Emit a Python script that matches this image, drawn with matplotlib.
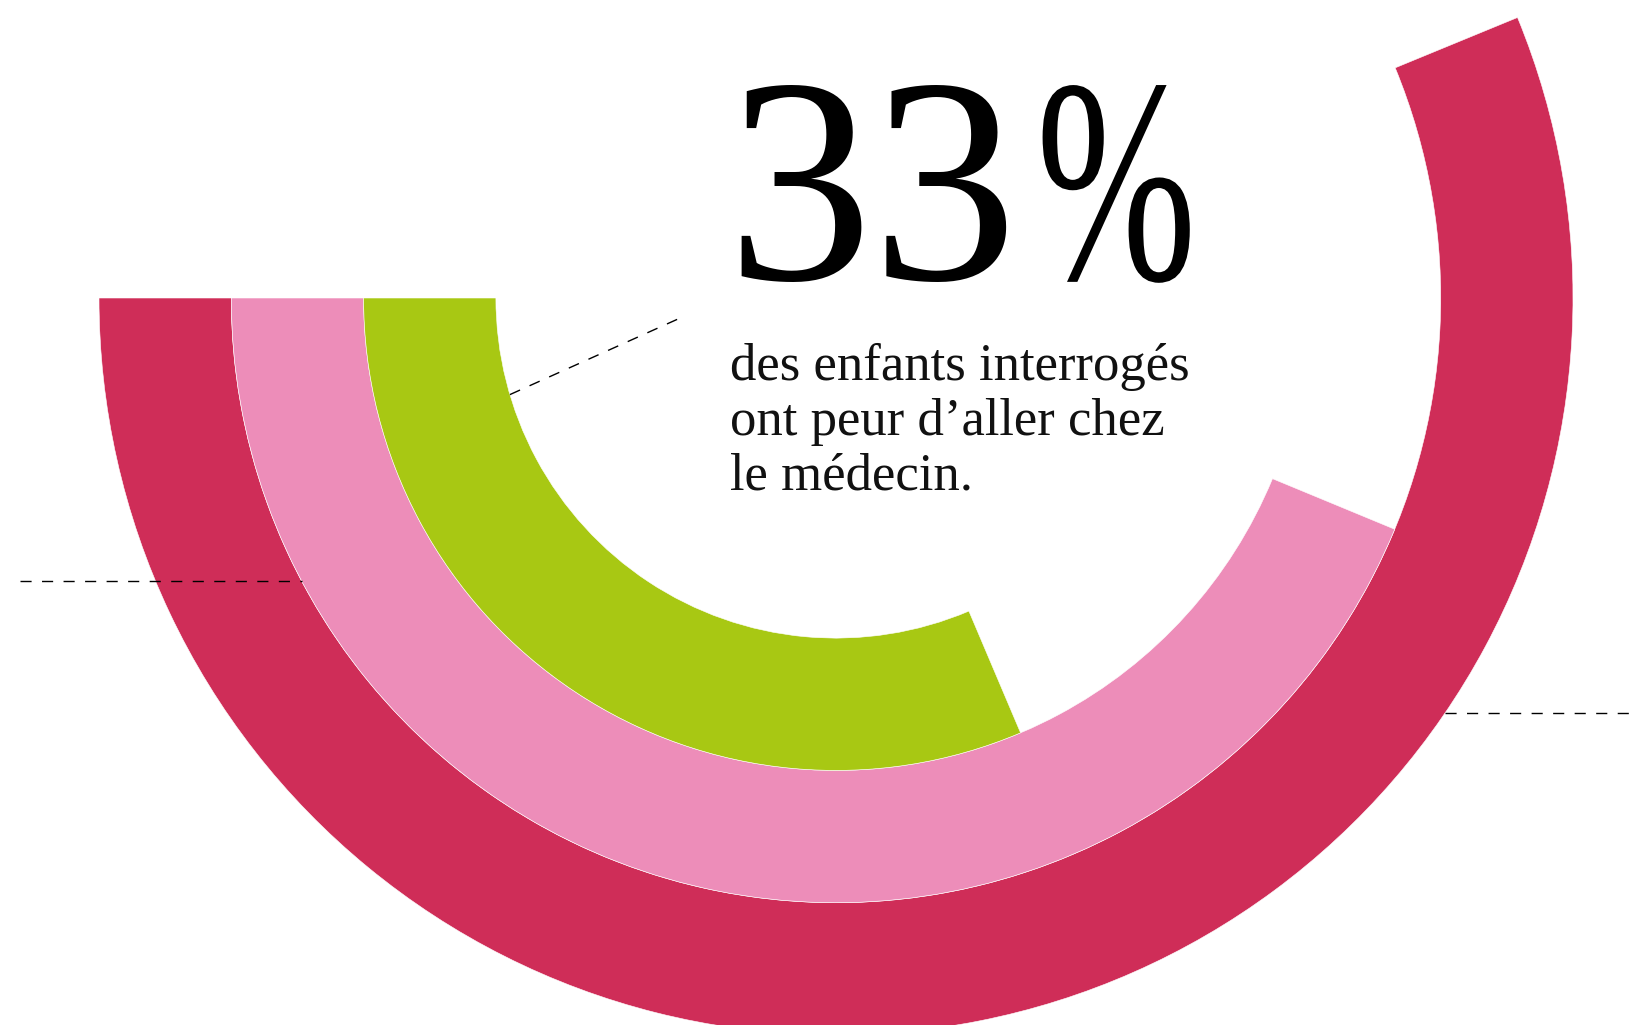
import numpy as np
import matplotlib
matplotlib.use("Agg")
import matplotlib.pyplot as plt
from matplotlib.patheffects import AbstractPathEffect
from matplotlib.transforms import Affine2D

# share of children for each ring, outer to inner (percent)
rings = ["rouge", "rose", "vert"]
values = [59.1, 46, 33]
colors = ["#CF2D58", "#ED8DB9", "#A8C813"]

headline_num = "33"
headline_sign = "%"
caption = ["des enfants interrogés", "ont peur d\u2019aller chez", "le médecin."]

W, H = 1639, 1025
cx, cy = 836, 298          # ring centre, pixels from top-left
r_out = 737                # outer edge of the outer ring
band = 132.3               # ring thickness
deg_per_pct = 113 / 33     # angular scale of the gauge
r_ax = 800                 # radius covered by the polar axes


class Squeeze(AbstractPathEffect):
    """Narrow the glyphs horizontally (condensed look)."""

    def __init__(self, sx):
        super().__init__()
        self.sx = sx

    def draw_path(self, renderer, gc, tpath, affine, rgbFace=None):
        renderer.draw_path(gc, tpath, Affine2D().scale(self.sx, 1) + affine, rgbFace)


fig = plt.figure(figsize=(W / 100, H / 100), dpi=100)

# polar axes sized in pixels so radial units are pixels too
pax = fig.add_axes([(cx - r_ax) / W, (H - cy - r_ax) / H, 2 * r_ax / W, 2 * r_ax / H],
                   projection="polar")
pax.set_theta_zero_location("W")
pax.set_theta_direction(1)
pax.set_rlim(0, r_ax)
pax.axis("off")

for i, (v, c) in enumerate(zip(values, colors)):
    outer = r_out - i * band
    pax.bar(0, band, width=np.deg2rad(v * deg_per_pct), bottom=outer - band,
            align="edge", color=c, edgecolor="white", linewidth=0.4)

# overlay in pixel coordinates for text and leader lines
ax = fig.add_axes([0, 0, 1, 1])
ax.set_xlim(0, W)
ax.set_ylim(H, 0)
ax.axis("off")
ax.patch.set_alpha(0)

dash = dict(color="black", lw=1.0, linestyle=(0, (8, 7.5)))

# left leader: stops at the inner edge of the outer ring
y_l = 581
r_red_in = r_out - band
ax.plot([20, cx - np.sqrt(r_red_in ** 2 - (y_l - cy) ** 2)], [y_l, y_l], **dash)

# right leader: starts at the outer edge of the outer ring
y_r = 713
ax.plot([cx + np.sqrt(r_out ** 2 - (y_r - cy) ** 2), 1632], [y_r, y_r], **dash)

# leader from the inner ring to the caption
r_green_in = r_out - 3 * band
a = np.deg2rad(16.5)
ax.plot([cx - r_green_in * np.cos(a), 678], [cy + r_green_in * np.sin(a), 319], **dash)

ax.text(726, 279, headline_num, fontsize=210, family="Liberation Serif",
        ha="left", va="baseline", color="black")
ax.text(1036, 279, headline_sign, fontsize=210, family="Liberation Serif",
        ha="left", va="baseline", color="black", path_effects=[Squeeze(0.66)])
for k, line in enumerate(caption):
    ax.text(730, 380 + 55 * k, line, fontsize=38, family="Liberation Serif",
            ha="left", va="baseline", color="#111111")

fig.savefig("out.png", dpi=100, facecolor="white")
